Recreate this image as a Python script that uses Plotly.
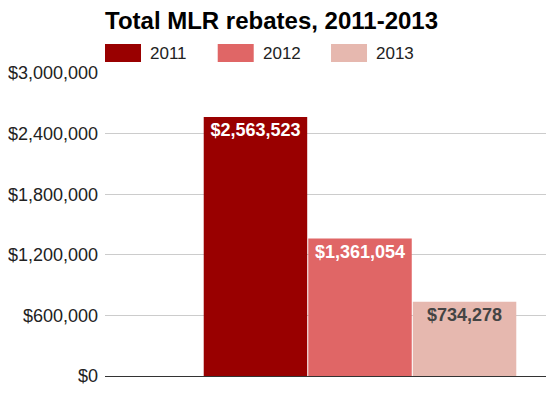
import plotly.graph_objects as go

years = ["2011", "2012", "2013"]
rebates = [2563523, 1361054, 734278]
colors = ["#990000", "#e06666", "#e6b8af"]
label_colors = ["#ffffff", "#ffffff", "#444444"]
category = ["Total"]
tick_vals = [0, 600000, 1200000, 1800000, 2400000, 3000000]
tick_text = ["$0", "$600,000", "$1,200,000", "$1,800,000", "$2,400,000", "$3,000,000"]

# page body has an 8px default margin; figure sized to fill the rest
W, H = 546, 391
ML, MR, MT, MB = 97, 1, 65, 23
PW, PH = W - ML - MR, H - MT - MB

fig = go.Figure()
for yr, val, col, lc in zip(years, rebates, colors, label_colors):
    fig.add_trace(go.Bar(
        x=category, y=[val], name=yr,
        marker=dict(color=col, line=dict(width=0)),
        text=[f"${val:,}"], textposition="inside", insidetextanchor="end",
        textfont=dict(family="Liberation Sans", size=18, color=lc, weight="bold"),
        showlegend=False,
    ))

# legend built from shapes + annotations
leg_x = [0, 0.2516, 0.5045]
shapes = []
annotations = []
for i, (yr, col) in enumerate(zip(years, colors)):
    x0 = leg_x[i]
    shapes.append(dict(type="rect", xref="paper", yref="paper",
                       x0=x0, x1=x0 + 36 / PW, y0=1 + (MT - 54) / PH, y1=1 + (MT - 36) / PH,
                       fillcolor=col, line=dict(width=0)))
    annotations.append(dict(text=yr, xref="paper", yref="paper",
                            x=x0 + 43 / PW, y=1 + (MT - 45) / PH, xanchor="left", yanchor="middle",
                            showarrow=False, font=dict(family="Liberation Sans", size=17, color="#222222")))

fig.update_layout(
    width=W, height=H,
    margin=dict(l=ML, r=MR, t=MT, b=MB, pad=0),
    paper_bgcolor="white", plot_bgcolor="white",
    barmode="group", bargap=0.300, bargroupgap=0.01,
    showlegend=False,
    title=dict(text="<b>Total MLR rebates, 2011-2013</b>", x=0, xref="paper",
               y=1 - 13 / H, yref="container", yanchor="middle", xanchor="left",
               font=dict(family="Liberation Sans", size=24, color="#000000")),
    xaxis=dict(range=[-0.5692, 0.4308], showticklabels=False, showgrid=False,
               zeroline=False, showline=False, fixedrange=True, automargin=False),
    yaxis=dict(range=[0, 3000000], tickvals=tick_vals, ticktext=tick_text,
               showgrid=True, gridcolor="#cccccc", gridwidth=1,
               zeroline=True, zerolinecolor="#333333", zerolinewidth=1,
               ticks="", ticklabelstandoff=6, automargin=False,
               tickfont=dict(family="Liberation Sans", size=18, color="#222222")),
    shapes=shapes, annotations=annotations,
    uniformtext=dict(mode=False),
)

fig.write_html("out.html")
